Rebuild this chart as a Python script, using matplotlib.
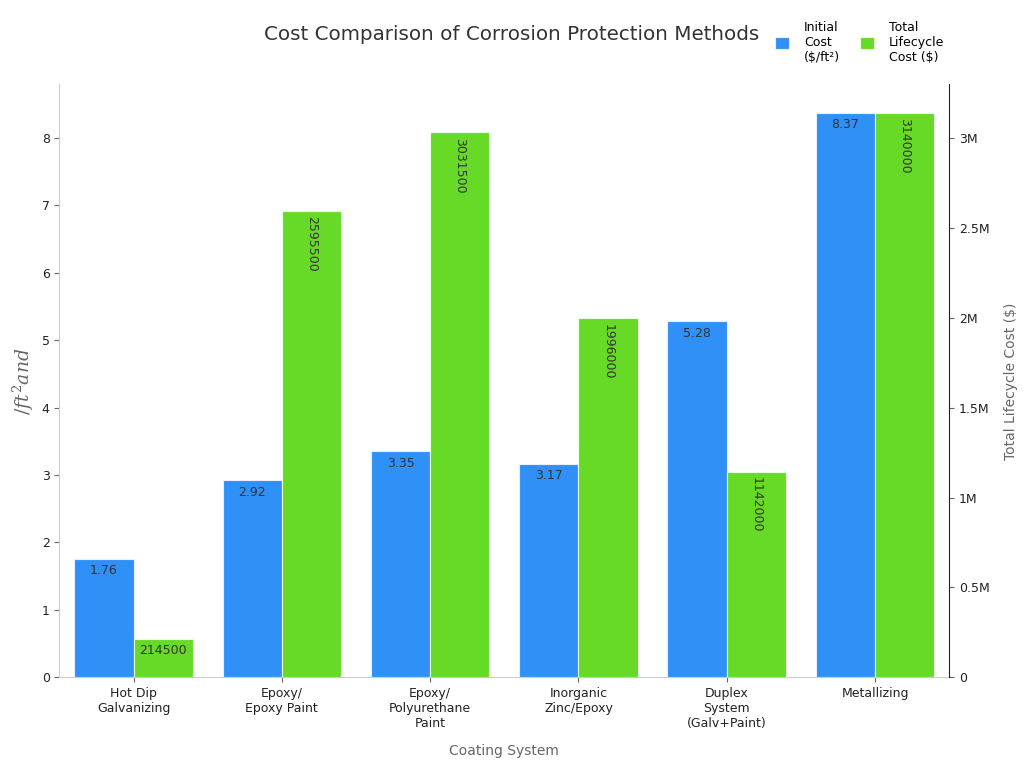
import matplotlib.pyplot as plt
import numpy as np
from matplotlib.ticker import FuncFormatter

systems = ["Hot Dip\nGalvanizing", "Epoxy/\nEpoxy Paint", "Epoxy/\nPolyurethane\nPaint",
           "Inorganic\nZinc/Epoxy", "Duplex\nSystem\n(Galv+Paint)", "Metallizing"]
initial_cost = [1.76, 2.92, 3.35, 3.17, 5.28, 8.37]
lifecycle_cost = [214500, 2595500, 3031500, 1996000, 1142000, 3140000]

blue = "#2f91f7"
green = "#66da26"
grey = "#666666"

plt.rcParams['mathtext.fontset'] = 'dejavuserif'

fig, ax = plt.subplots(figsize=(10.24, 7.68), dpi=100)
plt.subplots_adjust(left=0.058, right=0.927, top=0.89, bottom=0.118)
ax2 = ax.twinx()

x = np.arange(len(systems))
w = 0.4
b1 = ax.bar(x - w/2, initial_cost, w, color=blue, edgecolor="#e8f0ff", linewidth=0.8, label="Initial\nCost\n($/ft²)")
b2 = ax2.bar(x + w/2, lifecycle_cost, w, color=green, edgecolor="#e8ffe0", linewidth=0.8, label="Total\nLifecycle\nCost ($)")

ax.set_xlim(-0.5, 5.5)
ax.set_ylim(0, max(initial_cost) * 1.05)
ax2.set_ylim(0, max(lifecycle_cost) * 1.05)

for rect, v in zip(b1, initial_cost):
    ax.text(rect.get_x() + rect.get_width()/2, v - 0.08, f"{v:.2f}", ha="center", va="top",
            fontsize=9, color="#333333")
for rect, v in zip(b2, lifecycle_cost):
    if v < 500000:
        ax2.text(rect.get_x() + rect.get_width()/2, v - 30000, str(v), ha="center", va="top",
                 fontsize=9, color="#333333")
    else:
        ax2.text(rect.get_x() + rect.get_width()/2, v - 30000, str(v), ha="center", va="top",
                 fontsize=9, color="#333333", rotation=270)

ax.set_xticks(x)
ax.set_xticklabels(systems, fontsize=9, color="#222222")
ax.set_xlabel("Coating System", fontsize=10, color=grey, labelpad=10)
ax.set_ylabel(r"$/ft^2and$", fontsize=13.5, color=grey)
ax2.set_ylabel("Total Lifecycle Cost ($)", fontsize=10, color=grey, labelpad=10)

def mfmt(v, pos):
    if v == 0:
        return "0"
    s = f"{v/1e6:g}"
    return s + "M"
ax2.yaxis.set_major_formatter(FuncFormatter(mfmt))
ax2.set_yticks([0, 500000, 1000000, 1500000, 2000000, 2500000, 3000000])

ax.tick_params(axis="both", labelsize=9, colors="#222222")
ax.tick_params(axis="y", color=grey)
ax.tick_params(axis="x", color=grey)
ax2.tick_params(axis="y", labelsize=9, colors="#222222", color=grey)

for a in (ax, ax2):
    a.spines["top"].set_visible(False)
ax.spines["left"].set_color("#cccccc")
ax.spines["bottom"].set_color("#cccccc")
ax.spines["right"].set_visible(False)
ax2.spines["left"].set_visible(False)
ax2.spines["bottom"].set_visible(False)
ax2.spines["right"].set_color("#222222")

fig.text(0.5, 0.955, "Cost Comparison of Corrosion Protection Methods", ha="center", va="center",
         fontsize=14.3, color="#333333")

h1, l1 = ax.get_legend_handles_labels()
h2, l2 = ax2.get_legend_handles_labels()
fig.legend(h1 + h2, l1 + l2, loc="upper right", bbox_to_anchor=(0.933, 0.987), ncol=2,
           frameon=False, fontsize=9, handlelength=1.1, handleheight=1.1, columnspacing=1.6,
           handletextpad=1.2, labelspacing=0.5)

plt.savefig("out.png")
